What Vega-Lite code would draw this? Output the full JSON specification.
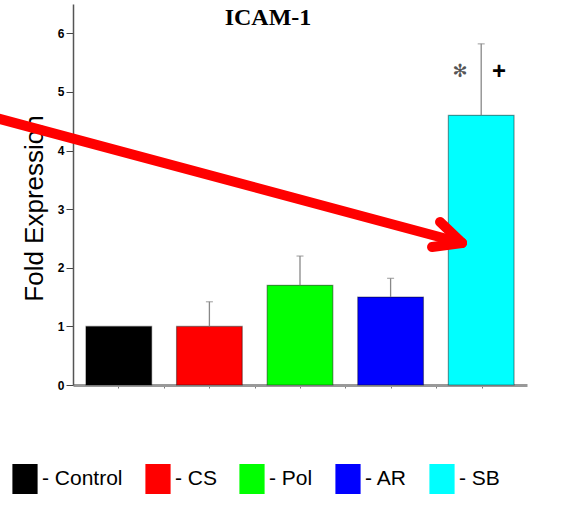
{
  "$schema": "https://vega.github.io/schema/vega-lite/v6.json",
  "width": 454,
  "height": 381,
  "autosize": {"type": "none"},
  "padding": {"left": 73, "top": 4, "right": 41, "bottom": 120},
  "background": "white",
  "title": {
    "text": "ICAM-1",
    "font": "Liberation Serif",
    "fontWeight": "bold",
    "fontSize": 24,
    "color": "#000",
    "anchor": "middle",
    "dx": -32,
    "offset": -26
  },
  "config": {
    "view": {"stroke": null}
  },
  "datasets": {
    "bars": [
      {"group": "Control", "value": 1.0, "upper": 1.0},
      {"group": "CS", "value": 1.0, "upper": 1.42},
      {"group": "Pol", "value": 1.7, "upper": 2.2},
      {"group": "AR", "value": 1.5, "upper": 1.82},
      {"group": "SB", "value": 4.6, "upper": 5.82}
    ],
    "arrow": [
      {"x": -0.86, "y": 4.562, "x2": 4.284, "y2": 2.423},
      {"x": 4.284, "y": 2.423, "x2": 4.042, "y2": 2.781},
      {"x": 4.284, "y": 2.423, "x2": 3.954, "y2": 2.354}
    ],
    "notes": [
      {"x": 4.262, "y": 5.34, "t": "✻", "kind": "star"},
      {"x": 4.692, "y": 5.34, "t": "+", "kind": "plus"}
    ]
  },
  "layer": [
    {
      "data": {"name": "bars"},
      "mark": {"type": "bar", "stroke": "#000", "strokeOpacity": 0.4, "strokeWidth": 1.2},
      "encoding": {
        "x": {
          "field": "group", "type": "nominal",
          "scale": {"domain": ["Control", "CS", "Pol", "AR", "SB"], "paddingInner": 0.275, "paddingOuter": 0.143},
          "axis": null
        },
        "y": {
          "field": "value", "type": "quantitative",
          "scale": {"domain": [0, 6.5], "nice": false},
          "axis": {
            "orient": "left",
            "title": "Fold Expression",
            "titleFont": "Liberation Sans",
            "titleFontSize": 26,
            "titleFontWeight": "normal",
            "titleColor": "#000",
            "titleX": -31,
            "titleY": 204,
            "titleBaseline": "alphabetic",
            "values": [0, 0.5, 1, 1.5, 2, 2.5, 3, 3.5, 4, 4.5, 5, 5.5, 6],
            "labelExpr": "datum.value % 1 === 0 ? format(datum.value, 'd') : ''",
            "labelFont": "Liberation Sans",
            "labelFontWeight": "bold",
            "labelFontSize": 12,
            "labelColor": "#000",
            "labelPadding": 2,
            "tickSize": {"condition": {"test": "datum.value % 1 === 0", "value": 7}, "value": 3},
            "tickColor": "#444",
            "domainColor": "#555",
            "domainWidth": 1.5,
            "grid": false
          }
        },
        "color": {
          "field": "group", "type": "nominal",
          "scale": {
            "domain": ["Control", "CS", "Pol", "AR", "SB"],
            "range": ["#000000", "#ff0000", "#00ff00", "#0000ff", "#00ffff"]
          },
          "legend": {
            "title": null,
            "labelExpr": "'- ' + datum.label",
            "orient": "none",
            "legendX": -63,
            "legendY": 460,
            "direction": "horizontal",
            "padding": 0,
            "symbolType": "M-0.84,-1H0.84V1H-0.84Z",
            "symbolSize": 900,
            "symbolStrokeWidth": 0,
            "symbolOpacity": 1,
            "labelFont": "Liberation Sans",
            "labelFontSize": 21,
            "labelColor": "#000",
            "labelOffset": 2,
            "columnPadding": 20,
            "labelLimit": 200
          }
        }
      }
    },
    {
      "data": {"name": "bars"},
      "transform": [{"filter": "datum.upper > datum.value"}],
      "mark": {"type": "rule", "color": "#888", "strokeWidth": 1.3},
      "encoding": {
        "x": {"field": "group", "type": "nominal", "scale": {"domain": ["Control", "CS", "Pol", "AR", "SB"], "paddingInner": 0.275, "paddingOuter": 0.143}, "axis": null},
        "y": {"field": "value", "type": "quantitative", "scale": {"domain": [0, 6.5], "nice": false}},
        "y2": {"field": "upper"}
      }
    },
    {
      "data": {"name": "bars"},
      "transform": [{"filter": "datum.upper > datum.value"}],
      "mark": {"type": "tick", "color": "#888", "size": 7, "thickness": 1.2},
      "encoding": {
        "x": {"field": "group", "type": "nominal", "scale": {"domain": ["Control", "CS", "Pol", "AR", "SB"], "paddingInner": 0.275, "paddingOuter": 0.143}, "axis": null},
        "y": {"field": "upper", "type": "quantitative", "scale": {"domain": [0, 6.5], "nice": false}}
      }
    },
    {
      "data": {"name": "notes"},
      "transform": [{"filter": "datum.kind === 'star'"}],
      "mark": {"type": "text", "font": "DejaVu Sans", "fontSize": 18, "color": "#555", "baseline": "middle", "align": "center"},
      "encoding": {
        "x": {
          "field": "x", "type": "quantitative",
          "scale": {"domain": [0, 5], "nice": false, "zero": false},
          "axis": {
            "values": [0.5, 1, 1.5, 2, 2.5, 3, 3.5, 4, 4.5],
            "labels": false,
            "title": null,
            "tickSize": 3,
            "tickColor": "#777",
            "domainColor": "#999",
            "domainWidth": 3,
            "grid": false
          }
        },
        "y": {"field": "y", "type": "quantitative", "scale": {"domain": [0, 6.5], "nice": false}},
        "text": {"field": "t"}
      }
    },
    {
      "data": {"name": "notes"},
      "transform": [{"filter": "datum.kind === 'plus'"}],
      "mark": {"type": "text", "font": "Liberation Sans", "fontWeight": "bold", "fontSize": 24, "color": "#000", "baseline": "middle", "align": "center"},
      "encoding": {
        "x": {"field": "x", "type": "quantitative", "scale": {"domain": [0, 5], "nice": false, "zero": false}, "axis": null},
        "y": {"field": "y", "type": "quantitative", "scale": {"domain": [0, 6.5], "nice": false}},
        "text": {"field": "t"}
      }
    },
    {
      "data": {"name": "arrow"},
      "mark": {"type": "rule", "color": "#ff0000", "strokeWidth": 10, "strokeCap": "round"},
      "encoding": {
        "x": {"field": "x", "type": "quantitative", "scale": {"domain": [0, 5], "nice": false, "zero": false}, "axis": null},
        "x2": {"field": "x2"},
        "y": {"field": "y", "type": "quantitative", "scale": {"domain": [0, 6.5], "nice": false}},
        "y2": {"field": "y2"}
      }
    }
  ],
  "resolve": {"scale": {"x": "independent"}}
}
